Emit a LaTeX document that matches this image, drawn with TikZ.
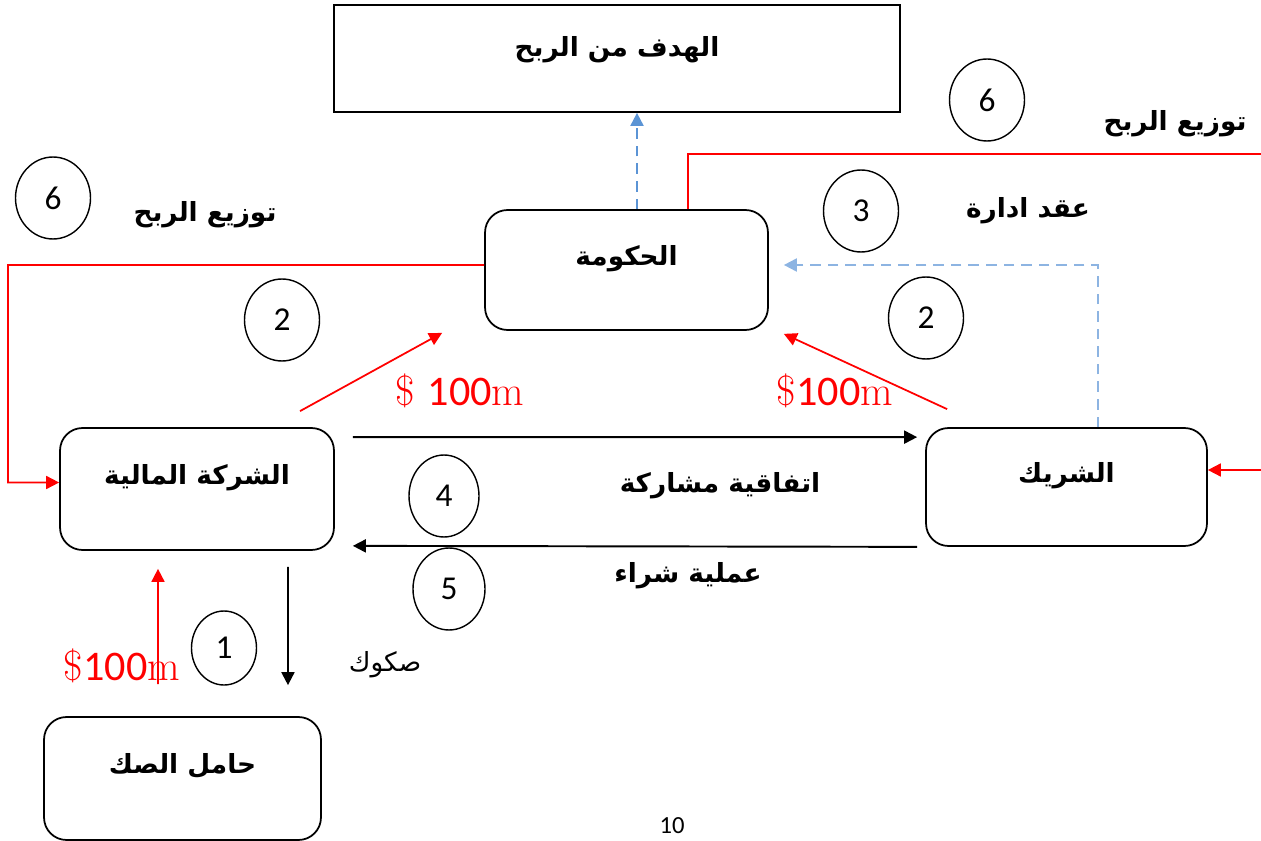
\documentclass[tikz,border=0pt]{standalone}
\usepackage{fontspec}
\usepackage{tikz}
\usetikzlibrary{arrows.meta,shapes.geometric}
\TeXXeTstate=1
\newfontfamily\arabicfont[Script=Arabic]{DejaVu Sans}
\newfontfamily\numfont{Carlito}
\newcommand{\artext}[1]{{\arabicfont\beginR #1\endR}}
\newcommand{\mamount}[1]{\$#1{\numfont 100}m}

\begin{document}
\begin{tikzpicture}[x=0.02cm, y=-0.02cm,
    goalbox/.style={draw, line width=1pt, minimum width=11.32cm, minimum height=2.14cm,
        text depth=14pt, font=\bfseries\fontsize{15}{18}\selectfont},
    roundbox/.style={draw, line width=1pt, rounded corners=0.45cm, text depth=17pt,
        font=\bfseries\fontsize{15}{18}\selectfont},
    numcirc/.style={draw, ellipse, line width=0.8pt, inner sep=0pt,
        minimum width=1.5cm, minimum height=1.64cm, font=\numfont\fontsize{19}{22}\selectfont},
    lbl/.style={font=\bfseries\fontsize{15}{18}\selectfont},
    money/.style={text=red, font=\fontsize{24}{28}\selectfont},
    redline/.style={draw=red, line width=1pt},
    blkarrow/.style={line width=1.1pt, -{Triangle[width=0.26cm, length=0.26cm]}},
    redarrow/.style={redline, -{Triangle[width=0.26cm, length=0.26cm]}},
    bluedash/.style={draw={rgb,255:red,91;green,148;blue,213}, line width=1.1pt,
        dash pattern=on 6pt off 4pt, -{Triangle[width=0.26cm, length=0.26cm]}},
    lightdash/.style={draw={rgb,255:red,141;green,180;blue,226}, line width=1.1pt,
        dash pattern=on 6pt off 4pt, -{Triangle[width=0.26cm, length=0.26cm]}}]
\useasboundingbox (0,0) rectangle (1261,841);

    % boxes
    \node[goalbox] (goal) at (617,58.5) {\artext{الهدف من الربح}};
    \node[roundbox, minimum width=5.66cm, minimum height=2.4cm] (gov) at (626.5,270) {\artext{الحكومة}};
    \node[roundbox, minimum width=5.48cm, minimum height=2.44cm] (fin) at (197,489) {\artext{الشركة المالية}};
    \node[roundbox, minimum width=5.62cm, minimum height=2.36cm] (partner) at (1066.5,487) {\artext{الشريك}};
    \node[roundbox, minimum width=5.54cm, minimum height=2.46cm] (holder) at (182.5,778.5) {\artext{حامل الصك}};

    % numbered circles
    \node[numcirc] (six1) at (53,198) {6};
    \node[numcirc] (six2) at (987,100) {6};
    \node[numcirc] (three) at (861,211) {3};
    \node[numcirc] (two1) at (282,320) {2};
    \node[numcirc] (two2) at (926,318) {2};
    \node[numcirc, minimum width=1.4cm] (four) at (444,496) {4};
    \node[numcirc, minimum width=1.44cm] (five) at (449,589) {5};
    \node[numcirc, minimum width=1.3cm, minimum height=1.48cm] (one) at (224,648) {1};

    % labels
    \node[lbl] (dist1) at (205,215) {\artext{توزيع الربح}};
    \node[lbl] (dist2) at (1175,124) {\artext{توزيع الربح}};
    \node[lbl] (mgmt) at (1028,211) {\artext{عقد ادارة}};
    \node[lbl] (musharaka) at (720,486) {\artext{اتفاقية مشاركة}};
    \node[lbl] (purchase) at (688,576) {\artext{عملية شراء}};
    \node[font=\fontsize{15}{18}\selectfont] (sukuk) at (385,665) {\artext{صكوك}};
    \node[money] (m1) at (460,391) {\mamount{ }};
    \node[money] (m2) at (835,391) {\mamount{}};
    \node[money] (m3) at (122,666) {\mamount{}};
    \node[font=\numfont\fontsize{14}{16}\selectfont, inner sep=1pt, anchor=south] (fignum) at (672,836) {10};

    % free ends
    \coordinate (lcorner) at (8,265);
    \coordinate (rtop) at (1261,154);
    \coordinate (rin) at (1261,470);

    % connectors
    \draw[bluedash] ([xshift=0.21cm]gov.north) -- ([xshift=0.21cm]gov.north |- goal.south);
    \draw[lightdash] ([xshift=0.63cm]partner.north) |- ([xshift=0.3cm,yshift=0.1cm]gov.east);
    \draw[redarrow] ([yshift=0.1cm]gov.west) -- (lcorner) |- ([yshift=0.13cm]fin.west);
    \draw[redline] ([xshift=1.23cm]gov.north) |- (rtop);
    \draw[redarrow] (rin) -- (rin -| partner.east);
    \draw[redarrow] ([xshift=2.06cm,yshift=0.32cm]fin.north) -- ([xshift=-0.84cm,yshift=-0.04cm]gov.south west);
    \draw[redarrow] ([xshift=0.44cm,yshift=0.36cm]partner.north west) -- ([xshift=0.3cm,yshift=-0.06cm]gov.south east);
    \draw[blkarrow] ([xshift=0.36cm,yshift=-0.2cm]fin.north east) -- ([xshift=-0.16cm,yshift=-0.2cm]partner.north west);
    \draw[blkarrow] ([xshift=-0.16cm]partner.south west) -- ([xshift=0.36cm,yshift=0.1cm]fin.south east);
    \draw[blkarrow] ([xshift=1.82cm,yshift=-0.32cm]fin.south) -- ([xshift=2.11cm,yshift=0.62cm]holder.north);
    \draw[redarrow] ([xshift=-0.49cm,yshift=0.64cm]holder.north) -- ([xshift=-0.78cm,yshift=-0.36cm]fin.south);
\end{tikzpicture}
\end{document}
